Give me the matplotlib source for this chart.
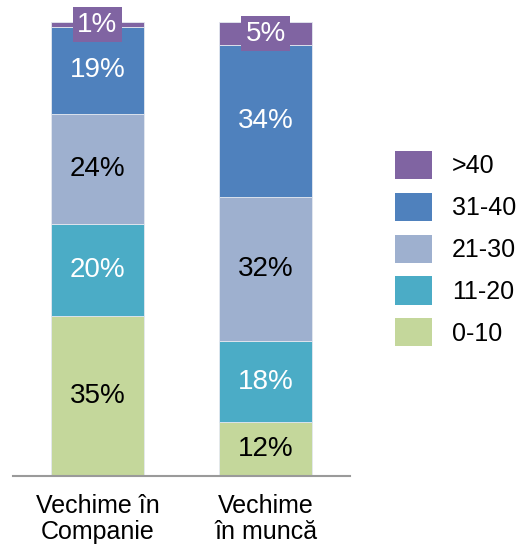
import matplotlib
matplotlib.use("Agg")
import matplotlib.pyplot as plt
import numpy as np

plt.rcParams['font.family'] = ['Liberation Sans', 'DejaVu Sans']

categories = ["Vechime în\nCompanie", "Vechime\nîn muncă"]
groups = ["0-10", "11-20", "21-30", "31-40", ">40"]
values = {
    "0-10": [35, 12],
    "11-20": [20, 18],
    "21-30": [24, 32],
    "31-40": [19, 34],
    ">40": [1, 5],
}
colors = {
    "0-10": "#C4D79B",
    "11-20": "#4BACC6",
    "21-30": "#9EB0CF",
    "31-40": "#4F81BD",
    ">40": "#8064A2",
}
text_colors = {
    "0-10": "black",
    "11-20": "white",
    "21-30": "black",
    "31-40": "white",
    ">40": "white",
}

fig = plt.figure(figsize=(5.26, 5.45), dpi=100)
ax = fig.add_axes([13.3/526, (545-476)/545, 336.4/526, (476-22.3)/545])

x = np.arange(len(categories))
totals = np.sum([values[g] for g in groups], axis=0).astype(float)
bottom = np.zeros(len(categories))
handles = []
for g in groups:
    v = np.array(values[g], dtype=float)
    pct = v / totals * 100
    bars = ax.bar(x, pct, width=0.556, bottom=bottom, color=colors[g],
                  edgecolor="#E4E8F0", linewidth=0.6, label=g)
    handles.append(bars)
    for xi, b, p, lab in zip(x, bottom, pct, v):
        kw = {}
        if g == ">40":
            kw["bbox"] = dict(boxstyle="square,pad=0.15", facecolor=colors[g], edgecolor="none")
        ax.text(xi, b + p / 2, f"{int(lab)}%", ha="center", va="center",
                fontsize=20, color=text_colors[g], zorder=5, **kw)
    bottom += pct

ax.set_xlim(-0.5, 1.5)
ax.set_ylim(0, 100)
ax.set_xticks(x)
ax.set_xticklabels(categories, fontsize=18, linespacing=1.12)
ax.tick_params(axis="x", length=0, pad=13)
ax.set_yticks([])
for s in ["top", "right", "left"]:
    ax.spines[s].set_visible(False)
ax.spines["bottom"].set_color("#9A9A9A")
ax.spines["bottom"].set_linewidth(1.5)

leg = fig.legend(handles[::-1], groups[::-1], loc="upper left",
                 bbox_to_anchor=(385/526, 1 - 141/545), frameon=False,
                 fontsize=18, handlelength=1.48, handleheight=1.35,
                 handletextpad=0.8, labelspacing=0.55, borderaxespad=0)
for p in leg.get_patches():
    p.set_edgecolor("none")

fig.savefig("out.png", dpi=100)
